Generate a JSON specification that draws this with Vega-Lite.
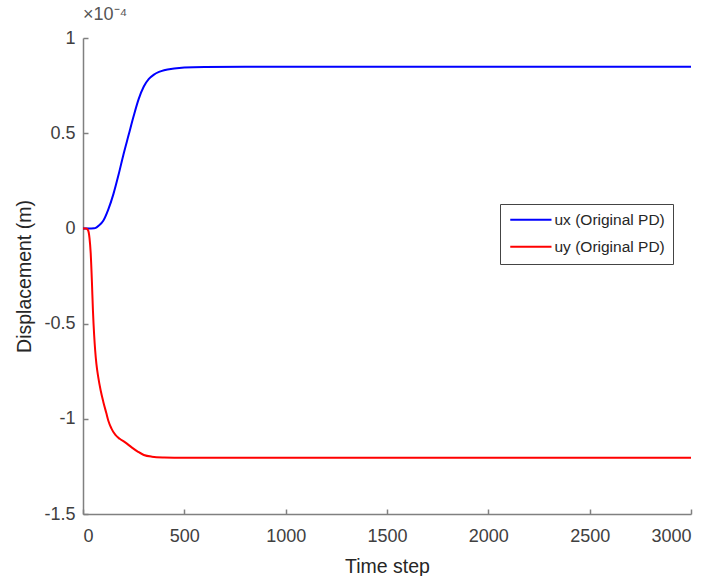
{
  "$schema": "https://vega.github.io/schema/vega-lite/v6.json",
  "autosize": "none",
  "padding": {"left": 83, "top": 38, "right": 22, "bottom": 62},
  "width": 608,
  "height": 476,
  "background": "white",
  "title": {
    "text": "×10⁻⁴",
    "anchor": "start",
    "frame": "group",
    "offset": 5,
    "fontSize": 18,
    "fontWeight": "normal",
    "font": "Liberation Sans",
    "color": "#555555"
  },
  "data": {
    "values": [
      {"t": 0, "series": "ux (Original PD)", "u": 0},
      {"t": 40, "series": "ux (Original PD)", "u": 0},
      {"t": 55, "series": "ux (Original PD)", "u": 0.00000005},
      {"t": 65, "series": "ux (Original PD)", "u": 0.0000004},
      {"t": 75, "series": "ux (Original PD)", "u": 0.0000012},
      {"t": 100, "series": "ux (Original PD)", "u": 0.000004},
      {"t": 125, "series": "ux (Original PD)", "u": 0.000010},
      {"t": 150, "series": "ux (Original PD)", "u": 0.000018},
      {"t": 175, "series": "ux (Original PD)", "u": 0.000028},
      {"t": 200, "series": "ux (Original PD)", "u": 0.000039},
      {"t": 225, "series": "ux (Original PD)", "u": 0.000049},
      {"t": 250, "series": "ux (Original PD)", "u": 0.000059},
      {"t": 275, "series": "ux (Original PD)", "u": 0.000068},
      {"t": 300, "series": "ux (Original PD)", "u": 0.0000745},
      {"t": 325, "series": "ux (Original PD)", "u": 0.0000785},
      {"t": 350, "series": "ux (Original PD)", "u": 0.0000808},
      {"t": 375, "series": "ux (Original PD)", "u": 0.0000822},
      {"t": 400, "series": "ux (Original PD)", "u": 0.0000831},
      {"t": 450, "series": "ux (Original PD)", "u": 0.000084},
      {"t": 500, "series": "ux (Original PD)", "u": 0.0000845},
      {"t": 600, "series": "ux (Original PD)", "u": 0.0000848},
      {"t": 800, "series": "ux (Original PD)", "u": 0.0000849},
      {"t": 3000, "series": "ux (Original PD)", "u": 0.0000849},
      {"t": 0, "series": "uy (Original PD)", "u": 0},
      {"t": 15, "series": "uy (Original PD)", "u": 0},
      {"t": 25, "series": "uy (Original PD)", "u": -0.000001},
      {"t": 32, "series": "uy (Original PD)", "u": -0.000005},
      {"t": 38, "series": "uy (Original PD)", "u": -0.000013},
      {"t": 44, "series": "uy (Original PD)", "u": -0.000028},
      {"t": 49, "series": "uy (Original PD)", "u": -0.000043},
      {"t": 55, "series": "uy (Original PD)", "u": -0.000056},
      {"t": 60, "series": "uy (Original PD)", "u": -0.000064},
      {"t": 66, "series": "uy (Original PD)", "u": -0.000071},
      {"t": 75, "series": "uy (Original PD)", "u": -0.000078},
      {"t": 87, "series": "uy (Original PD)", "u": -0.000085},
      {"t": 100, "series": "uy (Original PD)", "u": -0.000091},
      {"t": 115, "series": "uy (Original PD)", "u": -0.000097},
      {"t": 125, "series": "uy (Original PD)", "u": -0.000101},
      {"t": 140, "series": "uy (Original PD)", "u": -0.000105},
      {"t": 160, "series": "uy (Original PD)", "u": -0.0001085},
      {"t": 181, "series": "uy (Original PD)", "u": -0.0001105},
      {"t": 210, "series": "uy (Original PD)", "u": -0.0001125},
      {"t": 240, "series": "uy (Original PD)", "u": -0.000115},
      {"t": 270, "series": "uy (Original PD)", "u": -0.0001172},
      {"t": 300, "series": "uy (Original PD)", "u": -0.000119},
      {"t": 340, "series": "uy (Original PD)", "u": -0.0001199},
      {"t": 400, "series": "uy (Original PD)", "u": -0.0001203},
      {"t": 500, "series": "uy (Original PD)", "u": -0.0001205},
      {"t": 3000, "series": "uy (Original PD)", "u": -0.0001205}
    ]
  },
  "mark": {"type": "line", "strokeWidth": 2, "interpolate": "monotone", "clip": true},
  "encoding": {
    "x": {
      "field": "t",
      "type": "quantitative",
      "scale": {"domain": [0, 3000], "nice": false, "zero": false},
      "axis": {
        "title": "Time step",
        "values": [0, 500, 1000, 1500, 2000, 2500, 3000],
        "format": "d",
        "grid": false,
        "labelPadding": 18,
        "titlePadding": 12
      }
    },
    "y": {
      "field": "u",
      "type": "quantitative",
      "scale": {"domain": [-0.00015, 0.0001], "nice": false, "zero": false},
      "axis": {
        "title": "Displacement (m)",
        "values": [-0.00015, -0.0001, -0.00005, 0, 0.00005, 0.0001],
        "labelExpr": "'' + round(datum.value * 100000) / 10",
        "grid": false,
        "labelPadding": 13,
        "titlePadding": 9
      }
    },
    "color": {
      "field": "series",
      "type": "nominal",
      "scale": {"domain": ["ux (Original PD)", "uy (Original PD)"], "range": ["#0000ff", "#ff0000"]},
      "legend": {
        "title": null,
        "orient": "none",
        "legendX": 417,
        "legendY": 166,
        "symbolType": "M-1,0H6.5",
        "symbolSize": 121,
        "symbolStrokeWidth": 2,
        "labelOffset": 31,
        "fillColor": "white",
        "strokeColor": "#444444",
        "padding": 8,
        "rowPadding": 10,
        "labelFontSize": 15.5,
        "labelColor": "#262626",
        "labelFont": "Liberation Sans"
      }
    }
  },
  "config": {
    "view": {"stroke": null},
    "axis": {
      "domainColor": "#808080",
      "domainWidth": 1.5,
      "tickColor": "#808080",
      "tickWidth": 1.5,
      "tickSize": -5,
      "labelFont": "Liberation Sans",
      "labelFontSize": 18,
      "labelColor": "#404040",
      "titleFont": "Liberation Sans",
      "titleFontSize": 19.5,
      "titleFontWeight": "normal",
      "titleColor": "#262626"
    }
  }
}
